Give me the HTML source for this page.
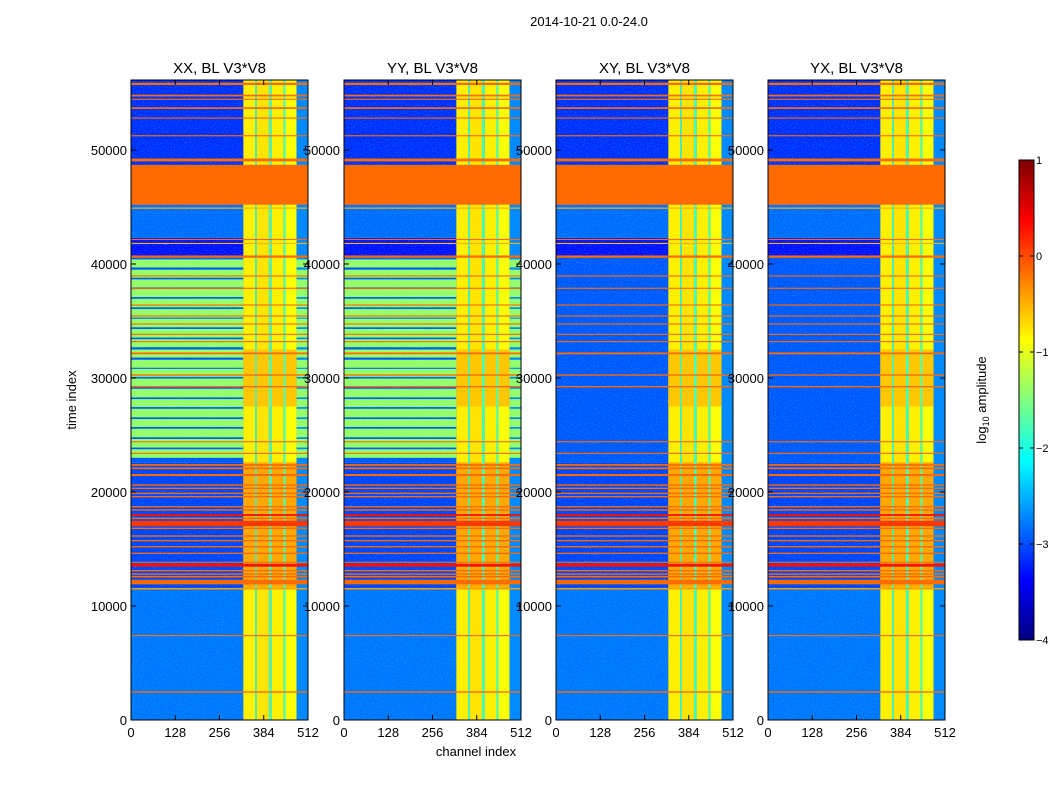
<!DOCTYPE html>
<html><head><meta charset="utf-8"><style>
body{margin:0;background:#fff;font-family:"Liberation Sans",sans-serif}
svg text{font-family:"Liberation Sans","DejaVu Sans",sans-serif}
</style></head><body>
<svg id="c" width="1050" height="800" xmlns="http://www.w3.org/2000/svg">
<text x="589" y="26" font-size="13" text-anchor="middle">2014-10-21 0.0-24.0</text>
<text x="476" y="756" font-size="13" text-anchor="middle">channel index</text>
<text x="76" y="400" font-size="13" text-anchor="middle" transform="rotate(-90 76 400)">time index</text>
</svg>
<script>
const panelTitles = ["XX, BL V3*V8","YY, BL V3*V8","XY, BL V3*V8","YX, BL V3*V8"];
const hasGreen = [true,true,false,false];
const xTicks = [0,128,256,384,512];
const yTicks = [0,10000,20000,30000,40000,50000];
const cbTicks = [-4,-3,-2,-1,0,1];
// background zones [tStart,tEnd,log10 level]
const bgZones = [[0,11500,-2.8],[11500,22600,-3.05],[22600,40600,-2.95],[40600,42300,-3.3],[42300,45200,-2.85],[45200,56140,-3.15]];
// bright channel columns [chStart,chEnd,level]
const columns = [[325,359,-0.8],[359,364,-1.8],[364,399,-0.75],[399,407,-1.8],[407,441,-0.8],[441,447,-1.8],[447,479,-0.9],[479,512,-2.7]];
// orange/red horizontal rows [tStart,tEnd,level]
const rows = [[55700,55900,-0.15],[54700,54850,-0.15],[54400,54500,-0.15],[53600,53750,-0.15],[52750,52850,-0.15],[51200,51300,-0.15],[49000,49250,-0.15],[45200,48700,-0.15],[44850,44950,-0.5],[42100,42200,-0.15],[41750,41850,-0.5],[40550,40750,-0.15],[38900,39000,-0.15],[37820,37920,-0.15],[36350,36450,-0.15],[35390,35490,-0.15],[34690,34790,-0.15],[33780,33880,-0.15],[33140,33240,-0.15],[32080,32240,-0.15],[30200,30320,-0.15],[29180,29300,-0.15],[24360,24460,-0.15],[23340,23440,-0.15],[22300,22450,-0.15],[22000,22150,-0.15],[21400,21580,-0.15],[20550,20670,-0.15],[20260,20380,-0.15],[19820,19940,-0.15],[19530,19650,-0.15],[18650,18770,-0.15],[18360,18480,-0.15],[17900,18060,0.3],[17620,17760,-0.15],[17000,17480,0.1],[16750,16870,-0.15],[16080,16200,-0.15],[15670,15790,-0.15],[15140,15260,-0.15],[14560,14680,-0.15],[13780,13880,-0.15],[13450,13700,0.3],[13040,13160,-0.15],[12740,12860,-0.15],[12500,12640,-0.15],[11900,12300,-0.15],[11450,11580,-0.4],[7350,7450,-0.15],[2400,2520,-0.15]];
// green stripes (XX, YY only) [tStart,tEnd,level]
const greenStripes = [[39700,40400,-1.4],[38800,39500,-1.4],[37950,38650,-1.4],[37100,37800,-1.4],[36200,36950,-1.4],[35300,36050,-1.4],[34450,35200,-1.4],[33550,34300,-1.4],[32700,33400,-1.4],[31800,32500,-1.35],[30900,31600,-1.4],[30100,30800,-1.4],[29200,29950,-1.4],[28300,29050,-1.4],[27450,28150,-1.4],[26550,27300,-1.4],[25700,26400,-1.4],[24800,25550,-1.4],[23900,24650,-1.4],[23000,23750,-1.4]];
// column region boosts [tStart,tEnd,level]
const colBoosts = [[11600,22600,-0.45],[27500,32500,-0.6]];

const panelX = [131,344,556,768], PW=177, PT=80, PB=720, TMAX=56140, CHMAX=512;
const NS="http://www.w3.org/2000/svg";
const svg=document.getElementById('c');
function jet(v){let f=(v+4)/5;f=Math.max(0,Math.min(1,f));
 const c=x=>Math.round(255*Math.max(0,Math.min(1,x)));
 return `rgb(${c(1.5-Math.abs(4*f-3))},${c(1.5-Math.abs(4*f-2))},${c(1.5-Math.abs(4*f-1))})`;}
function el(tag,attrs,parent){const e=document.createElementNS(NS,tag);for(const k in attrs)e.setAttribute(k,attrs[k]);(parent||svg).appendChild(e);return e;}
function rect(g,x0,x1,y0,y1,fill){return el('rect',{x:x0,y:y0,width:Math.max(0.5,x1-x0),height:Math.max(0.6,y1-y0),fill:fill},g);}
el('defs',{}).innerHTML='<filter id="nz" x="0" y="0" width="100%" height="100%"><feTurbulence type="fractalNoise" baseFrequency="0.9" numOctaves="1" seed="3"/><feColorMatrix type="matrix" values="0 0 0 0 0  0 0 0 0 0.9  0 0 0 0 1  0 0 0 3 -1.6"/></filter>';
panelX.forEach((px,pi)=>{
 const xs=ch=>px+ch/CHMAX*PW, ys=t=>PB-t/TMAX*(PB-PT);
 const g=el('g',{});
 
 
 bgZones.forEach(z=>{const r=rect(g,xs(0),xs(512),ys(z[1]),ys(z[0]),jet(z[2]));
  
  });
 el('rect',{x:px,y:PT,width:PW,height:PB-PT,filter:'url(#nz)',opacity:0.5},g);
 columns.forEach(c=>{const r=rect(g,xs(c[0]),xs(c[1]),PT,PB,jet(c[2]));
  
  });
 colBoosts.forEach(b=>{
  columns.forEach(c=>{if(c[2]>-1.5){const r=rect(g,xs(c[0]),xs(c[1]),ys(b[1]),ys(b[0]),jet(b[2]));
   
   }});});
 if(hasGreen[pi]) greenStripes.forEach(s=>{
  [[0,325],[479,512]].forEach(rg=>{const r=rect(g,xs(rg[0]),xs(rg[1]),ys(s[1]),ys(s[0]),jet(s[2]));
   
   });});
 rows.forEach(s=>{const r=rect(g,xs(0),xs(512),ys(s[1]),ys(s[0]),jet(s[2]));
  
  });
 const fr=el('rect',{x:px,y:PT,width:PW,height:PB-PT,fill:'none',stroke:'#000','stroke-width':1});
 
 
 const tt=el('text',{x:px+PW/2,y:73,'font-size':15,'text-anchor':'middle'});tt.textContent=panelTitles[pi];
 
 
 xTicks.forEach(v=>{const x=xs(v);
  el('line',{x1:x,x2:x,y1:PB,y2:PB-5,stroke:'#000'});el('line',{x1:x,x2:x,y1:PT,y2:PT+5,stroke:'#000'});
  const t=el('text',{x:x,y:737,'font-size':13,'text-anchor':'middle'});t.textContent=v;
  
  });
 yTicks.forEach(v=>{const y=ys(v);
  el('line',{x1:px,x2:px+5,y1:y,y2:y,stroke:'#000'});el('line',{x1:px+PW,x2:px+PW-5,y1:y,y2:y,stroke:'#000'});
  const t=el('text',{x:px-4,y:y+5,'font-size':13,'text-anchor':'end'});t.textContent=v;
  
  });
});
// colorbar
const CX=1019,CW=15,CT=160,CB=640;
const cg=el('g',{});


for(let i=0;i<120;i++){const v0=-4+5*i/120;rect(cg,CX,CX+CW,CB-(i+1)*(CB-CT)/120,CB-i*(CB-CT)/120+0.5,jet(v0+5/240));}
el('rect',{x:CX,y:CT,width:CW,height:CB-CT,fill:'none',stroke:'#000'},cg);
cbTicks.forEach(v=>{const y=CB-(v+4)/5*(CB-CT);
 el('line',{x1:CX,x2:CX+4,y1:y,y2:y,stroke:'#000'},cg);el('line',{x1:CX+CW,x2:CX+CW-4,y1:y,y2:y,stroke:'#000'},cg);
 const t=el('text',{x:1036,y:y+4,'font-size':11,'text-anchor':'start'},cg);t.textContent=v<0?'\u2212'+(-v):v;
 
 });
const cl=el('text',{x:986,y:400,'font-size':13,'text-anchor':'middle',transform:'rotate(-90 986 400)'});
cl.innerHTML='log<tspan font-size="9" dy="3">10</tspan><tspan dy="-3"> amplitude</tspan>';


</script>
</body></html>
